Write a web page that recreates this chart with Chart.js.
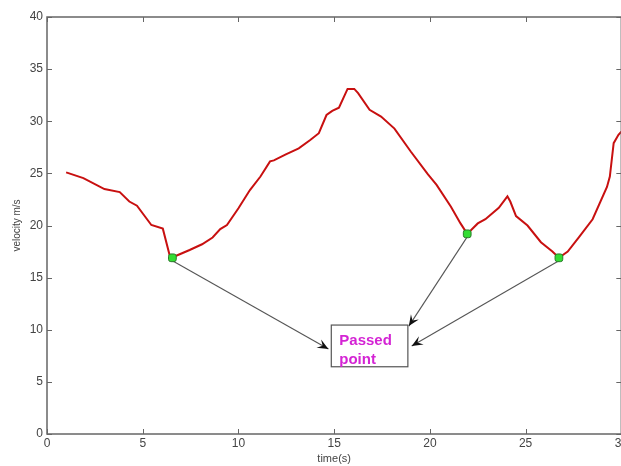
<!DOCTYPE html>
<html>
<head>
<meta charset="utf-8">
<script src="https://cdn.jsdelivr.net/npm/chart.js@4"></script>
<style>
  html, body { margin: 0; padding: 0; background: #fff; overflow: hidden; }
  #chart { position: absolute; left: 0; top: 0; }
</style>
</head>
<body>
<canvas id="chart" width="630" height="466"></canvas>
<script>
// velocity trace
const timeVals = [1.0, 1.9, 3.0, 3.8, 4.3, 4.7, 5.45, 6.05, 6.4, 6.55, 6.75, 7.45, 8.1, 8.65, 9.05, 9.4, 10.0, 10.6, 11.15, 11.65, 11.85, 12.45, 13.15, 13.75, 14.2, 14.6, 14.9, 15.25, 15.7, 16.05, 16.25, 16.85, 17.45, 18.15, 19.0, 19.9, 20.35, 21.1, 21.6, 21.95, 22.5, 22.9, 23.6, 24.05, 24.2, 24.5, 25.1, 25.8, 26.4, 26.74, 27.2, 27.8, 28.5, 29.25, 29.4, 29.6, 29.85, 30.0];
const velocityVals = [25.1, 24.55, 23.5, 23.2, 22.3, 21.9, 20.05, 19.7, 17.2, 16.9, 17.1, 17.65, 18.2, 18.85, 19.65, 20.05, 21.65, 23.4, 24.7, 26.15, 26.25, 26.8, 27.4, 28.2, 28.85, 30.6, 31.0, 31.3, 33.1, 33.1, 32.7, 31.1, 30.45, 29.3, 27.1, 24.9, 23.9, 21.8, 20.2, 19.2, 20.2, 20.6, 21.7, 22.8, 22.3, 20.9, 20.0, 18.4, 17.5, 16.9, 17.5, 18.9, 20.6, 23.7, 24.7, 27.9, 28.7, 29.0];

// passed points (green markers)
const passedT = [6.55, 21.95, 26.74];
const passedV = [16.9, 19.2, 16.9];

// annotation box and arrow tips, in data units
const boxT = [14.85, 18.85];
const boxV = [6.45, 10.45];
const arrowEndT = [14.7, 18.9, 19.05];
const arrowEndV = [8.15, 10.35, 8.45];
const boxLines = ['Passed', 'point'];

const xTicks = [0, 5, 10, 15, 20, 25, 30];
const yTicks = [0, 5, 10, 15, 20, 25, 30, 35, 40];

const axisColor = '#666';
const fontFamily = '"Liberation Sans", Arial, sans-serif';

function drawArrowHead(ctx, x1, y1, x2, y2) {
    const ang = Math.atan2(y2 - y1, x2 - x1);
    const len = 12, half = 0.4;
    ctx.beginPath();
    ctx.moveTo(x2, y2);
    ctx.lineTo(x2 - len * Math.cos(ang - half), y2 - len * Math.sin(ang - half));
    ctx.lineTo(x2 - len * 0.55 * Math.cos(ang), y2 - len * 0.55 * Math.sin(ang));
    ctx.lineTo(x2 - len * Math.cos(ang + half), y2 - len * Math.sin(ang + half));
    ctx.closePath();
    ctx.fillStyle = '#111';
    ctx.fill();
}

const annotations = {
    id: 'annotations',
    beforeDatasetsDraw(chart) {
        const ctx = chart.ctx;
        const xs = chart.scales.x, ys = chart.scales.y;
        ctx.save();
        // arrows
        for (let i = 0; i < passedT.length; i++) {
            const x1 = xs.getPixelForValue(passedT[i]), y1 = ys.getPixelForValue(passedV[i]) + 3;
            const x2 = xs.getPixelForValue(arrowEndT[i]), y2 = ys.getPixelForValue(arrowEndV[i]);
            ctx.beginPath();
            ctx.moveTo(x1, y1);
            ctx.lineTo(x2, y2);
            ctx.strokeStyle = '#555';
            ctx.lineWidth = 1.1;
            ctx.stroke();
            drawArrowHead(ctx, x1, y1, x2, y2);
        }
        // text box
        const bx = xs.getPixelForValue(boxT[0]), bx2 = xs.getPixelForValue(boxT[1]);
        const by = ys.getPixelForValue(boxV[1]), by2 = ys.getPixelForValue(boxV[0]);
        ctx.fillStyle = '#fff';
        ctx.fillRect(bx, by, bx2 - bx, by2 - by);
        ctx.strokeStyle = '#555';
        ctx.lineWidth = 1.2;
        ctx.strokeRect(bx, by, bx2 - bx, by2 - by);
        ctx.fillStyle = '#d424d4';
        ctx.font = 'bold 15px ' + fontFamily;
        ctx.textBaseline = 'alphabetic';
        ctx.fillText(boxLines[0], bx + 8, by + 20);
        ctx.fillText(boxLines[1], bx + 8, by + 39);
        ctx.restore();
    },
    afterDraw(chart) {
        const ctx = chart.ctx;
        const a = chart.chartArea;
        const xs = chart.scales.x, ys = chart.scales.y;
        ctx.save();
        ctx.strokeStyle = axisColor;
        ctx.lineWidth = 1.5;
        ctx.strokeRect(a.left, a.top, a.right - a.left, a.bottom - a.top);
        ctx.lineWidth = 1;
        ctx.beginPath();
        xTicks.forEach(t => {
            const px = Math.round(xs.getPixelForValue(t)) + 0.5;
            ctx.moveTo(px, a.bottom); ctx.lineTo(px, a.bottom - 5);
            ctx.moveTo(px, a.top); ctx.lineTo(px, a.top + 5);
        });
        yTicks.forEach(v => {
            const py = Math.round(ys.getPixelForValue(v)) + 0.5;
            ctx.moveTo(a.left, py); ctx.lineTo(a.left + 5, py);
            ctx.moveTo(a.right, py); ctx.lineTo(a.right - 5, py);
        });
        ctx.stroke();
        ctx.restore();
    }
};

const ctx = document.getElementById('chart').getContext('2d');
new Chart(ctx, {
    type: 'line',
    data: {
        datasets: [{
            label: 'passed',
            data: passedT.map((t, i) => ({ x: t, y: passedV[i] })),
            showLine: false,
            pointStyle: 'rectRounded',
            pointRadius: 4.5,
            backgroundColor: '#33dd33',
            borderColor: '#2a7a2a',
            borderWidth: 1,
            order: 0
        }, {
            label: 'velocity',
            data: timeVals.map((t, i) => ({ x: t, y: velocityVals[i] })),
            borderColor: '#c81010',
            borderWidth: 2,
            pointRadius: 0,
            tension: 0,
            order: 1
        }]
    },
    options: {
        responsive: false,
        animation: false,
        layout: { padding: { top: 17, right: 6, left: 0, bottom: 0 } },
        plugins: { legend: { display: false }, tooltip: { enabled: false } },
        scales: {
            x: {
                type: 'linear',
                min: 0, max: 30,
                afterFit: s => { s.height = 32; },
                afterBuildTicks: s => { s.ticks = xTicks.map(v => ({ value: v })); },
                grid: { display: false, drawTicks: false, tickLength: 0 },
                border: { display: false },
                ticks: { color: '#444', padding: 2, maxRotation: 0, font: { size: 12, family: fontFamily } },
                title: { display: true, text: 'time(s)', color: '#444', padding: 0, font: { size: 11, family: fontFamily } }
            },
            y: {
                min: 0, max: 40,
                afterFit: s => { s.width = 47; },
                afterBuildTicks: s => { s.ticks = yTicks.map(v => ({ value: v })); },
                grid: { display: false, drawTicks: false, tickLength: 0 },
                border: { display: false },
                ticks: { color: '#444', padding: 4, font: { size: 12, family: fontFamily } },
                title: { display: true, text: 'velocity m/s', color: '#444', padding: { top: 11, bottom: 0 }, font: { size: 10, family: fontFamily } }
            }
        }
    },
    plugins: [annotations]
});
</script>
</body>
</html>
